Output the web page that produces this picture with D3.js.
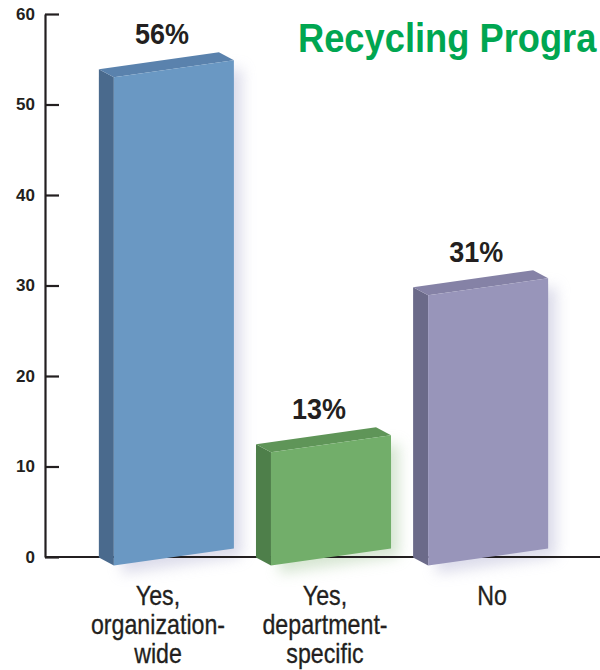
<!doctype html>
<html lang="en">
<head>
    <meta charset="UTF-8">
    <title>Recycling Program</title>
    <style>
        body { margin: 0; background: #fff; }
        svg { display: block; }
        .tick text { font-family: "Liberation Sans", Arial, sans-serif; font-weight: bold; font-size: 17px; fill: #231f20; }
        .lbl { font-family: "Liberation Sans", Arial, sans-serif; fill: #231f20; }
    </style>
</head>
<body>
    <svg width="600" height="670"></svg>
    <script src="https://cdn.jsdelivr.net/npm/d3@7"></script>
    <script>
        const categories = ["org", "dept", "no"];
        const categoryLines = [["Yes,", "organization-", "wide"], ["Yes,", "department-", "specific"], ["No"]];
        const values = [56, 13, 31];
        const valueLabels = ["56%", "13%", "31%"];
        const yTicks = [0, 10, 20, 30, 40, 50, 60];

        const frontColors = ["#6a98c3", "#72ae6a", "#9895ba"],
            sideColors = ["#4a6a8d", "#4e7f4a", "#6b6a89"],
            topColors = ["#5a82ad", "#5f9558", "#8582a6"];

        const svg = d3.select("svg");

        const y = d3.scaleLinear().domain([0, 60]).range([557, 14]);
        // bars are a touch foreshortened compared to the axis
        const barH = d3.scaleLinear().domain([0, 60]).range([0, 523]);
        const x = d3.scaleBand()
            .domain(categories)
            .range([95, 567])
            .paddingInner(0.236)
            .paddingOuter(0.12);
        const labelX = d3.scalePoint().domain(categories).range([158, 492]);

        const defs = svg.append("defs");
        defs.append("filter")
            .attr("id", "soft")
            .attr("x", "-30%").attr("y", "-30%").attr("width", "160%").attr("height", "160%")
            .append("feGaussianBlur")
            .attr("stdDeviation", 7);

        // title, cut at the right edge as in the source
        svg.append("text")
            .attr("class", "lbl")
            .attr("transform", "translate(298,52) scale(0.885,1)")
            .style("font-size", "41px")
            .style("font-weight", "bold")
            .style("fill", "#00a651")
            .text("Recycling Progra");

        const base = y(0),
            w = x.bandwidth(),
            tilt = w * (17 / 120) / 2,
            dx = -15, dy = -8;

        function pts(p) { return p.map(function(d) { return d.join(","); }).join(" "); }

        const bars = categories.map(function(c, i) {
            const x0 = x(c), h = barH(values[i]);
            return {
                i: i,
                x0: x0,
                cx: x0 + w / 2,
                h: h,
                front: [[x0, base + tilt], [x0, base + tilt - h], [x0 + w, base - tilt - h], [x0 + w, base - tilt]],
                side: [[x0, base + tilt], [x0, base + tilt - h], [x0 + dx, base + tilt - h + dy], [x0 + dx, base + tilt + dy]],
                top: [[x0, base + tilt - h], [x0 + w, base - tilt - h], [x0 + w + dx, base - tilt - h + dy], [x0 + dx, base + tilt - h + dy]]
            };
        });

        // soft shadows
        svg.append("g")
            .selectAll("polygon")
            .data(bars)
            .enter().append("polygon")
            .attr("points", function(d) { return pts(d.front.map(function(p) { return [p[0] + 8, p[1] + 8]; })); })
            .attr("fill", function(d) { return d.i === 1 ? "#b9d4b2" : "#c3c3dc"; })
            .attr("opacity", 0.6)
            .attr("filter", "url(#soft)");

        // y axis
        svg.append("g")
            .attr("transform", "translate(45,0)")
            .call(d3.axisLeft(y).tickValues(yTicks).tickSizeInner(-14).tickSizeOuter(0).tickPadding(10))
            .call(function(g) {
                g.selectAll("path, line").attr("stroke", "#231f20").attr("stroke-width", 2.2);
            });

        // baseline
        svg.append("line")
            .attr("x1", 45).attr("x2", 600)
            .attr("y1", base).attr("y2", base)
            .attr("stroke", "#231f20")
            .attr("stroke-width", 2.2);

        const bar = svg.append("g")
            .selectAll("g")
            .data(bars)
            .enter().append("g");

        bar.append("polygon")
            .attr("points", function(d) { return pts(d.side); })
            .attr("fill", function(d) { return sideColors[d.i]; });
        bar.append("polygon")
            .attr("points", function(d) { return pts(d.top); })
            .attr("fill", function(d) { return topColors[d.i]; });
        bar.append("polygon")
            .attr("points", function(d) { return pts(d.front); })
            .attr("fill", function(d) { return frontColors[d.i]; });

        // value labels
        bar.append("text")
            .attr("class", "lbl")
            .attr("transform", function(d) { return "translate(" + (d.cx - 12) + "," + (base - d.h - 25) + ") scale(0.93,1)"; })
            .attr("text-anchor", "middle")
            .style("font-size", "29px")
            .style("font-weight", "bold")
            .text(function(d) { return valueLabels[d.i]; });

        // category labels
        const cat = svg.append("g")
            .selectAll("g")
            .data(categories)
            .enter().append("g");

        cat.selectAll("text")
            .data(function(c, i) { return categoryLines[i].map(function(t) { return {c: c, t: t}; }); })
            .enter().append("text")
            .attr("class", "lbl")
            .attr("transform", function(d, j) { return "translate(" + labelX(d.c) + "," + (605 + j * 29) + ") scale(0.86,1)"; })
            .attr("text-anchor", "middle")
            .style("font-size", "27px")
            .style("stroke", "#231f20")
            .style("stroke-width", 0.3)
            .text(function(d) { return d.t; });
    </script>
</body>
</html>
